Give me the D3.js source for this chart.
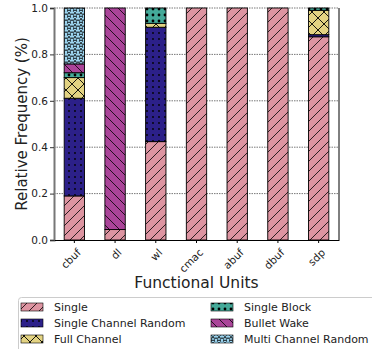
<!DOCTYPE html>
<html><head><meta charset="utf-8">
<script src="https://cdn.jsdelivr.net/npm/d3@7"></script>
<style>body{margin:0;background:#fff}svg{display:block;font-family:"DejaVu Sans",sans-serif}</style>
</head><body><div id="c"></div>
<script>
const categories = ["cbuf","dl","wl","cmac","abuf","dbuf","sdp"];
const seriesNames = ["Single","Single Channel Random","Full Channel","Single Block","Bullet Wake","Multi Channel Random"];
const single              = [0.19, 0.045, 0.424, 1.0, 1.0, 1.0, 0.876];
const singleChannelRandom = [0.421, 0, 0.493, 0, 0, 0, 0.009];
const fullChannel         = [0.089, 0, 0.017, 0, 0, 0, 0.105];
const singleBlock         = [0.021, 0, 0.066, 0, 0, 0, 0.01];
const bulletWake          = [0.038, 0.955, 0, 0, 0, 0, 0];
const multiChannelRandom  = [0.241, 0, 0, 0, 0, 0, 0];
const yTicks = [0.0, 0.2, 0.4, 0.6, 0.8, 1.0];

const seriesValues = [single, singleChannelRandom, fullChannel, singleBlock, bulletWake, multiChannelRandom];
const colors = ["#dd94a1","#2c2089","#e3d382","#44aa99","#aa4499","#9dd6f1"];
const patternIds = ["pSingle","pDots","pCross","pCircles","pBack","pStars"];

const W = 372, H = 349;
const m = {l:54, r:339, t:8, b:240};
const svg = d3.select("#c").append("svg").attr("width",W).attr("height",H);
const defs = svg.append("defs");

function mkPattern(id, color, size, draw){
  const p = defs.append("pattern").attr("id",id).attr("patternUnits","userSpaceOnUse")
    .attr("width",size).attr("height",size);
  p.append("rect").attr("width",size).attr("height",size).attr("fill",color);
  draw(p, size);
}
mkPattern("pSingle", colors[0], 10, (p,s)=>{
  p.append("path").attr("d",`M0,${s} L${s},0 M-2,2 L2,-2 M${s-2},${s+2} L${s+2},${s-2}`).attr("stroke","#000").attr("stroke-width",0.8);
});
mkPattern("pDots", colors[1], 6, (p,s)=>{
  p.append("circle").attr("cx",3).attr("cy",3).attr("r",0.9).attr("fill","#000");
});
mkPattern("pCross", colors[2], 12, (p,s)=>{
  p.append("path").attr("d",`M0,0 L${s},${s} M0,${s} L${s},0`).attr("stroke","#000").attr("stroke-width",0.9);
});
mkPattern("pCircles", colors[3], 6, (p,s)=>{
  p.append("circle").attr("cx",3).attr("cy",3).attr("r",1.4).attr("fill","#000");
});
mkPattern("pBack", colors[4], 10, (p,s)=>{
  p.append("path").attr("d",`M0,0 L${s},${s} M-2,${s-2} L2,${s+2} M${s-2},-2 L${s+2},2`).attr("stroke","#000").attr("stroke-width",0.8);
});
mkPattern("pStars", colors[5], 6, (p,s)=>{
  p.append("path").attr("d", d3.symbol(d3.symbolStar, 10)()).attr("transform","translate(3,3)")
    .attr("fill","none").attr("stroke","#000").attr("stroke-width",0.7);
});

const x = d3.scaleBand().domain(categories).range([m.l, m.r]).paddingInner(0.5).paddingOuter(0.25);
const y = d3.scaleLinear().domain([0,1]).range([m.b, m.t]);

// gridlines
svg.append("g").selectAll("line").data(yTicks.filter(d=>d>0)).join("line")
  .attr("x1",m.l).attr("x2",m.r).attr("y1",d=>y(d)).attr("y2",d=>y(d))
  .attr("stroke","#555").attr("stroke-width",0.8).attr("stroke-dasharray","1.5,1");

// stacked bars
const rows = categories.map((c,i)=>{const o={cat:c}; seriesNames.forEach((s,k)=>o[s]=seriesValues[k][i]); return o;});
const stack = d3.stack().keys(seriesNames)(rows);
stack.forEach((layer,k)=>{
  svg.append("g").selectAll("rect").data(layer.filter(d=>d[1]-d[0]>0)).join("rect")
    .attr("x",d=>x(d.data.cat)).attr("width",x.bandwidth())
    .attr("y",d=>y(d[1])).attr("height",d=>y(d[0])-y(d[1]))
    .attr("fill",`url(#${patternIds[k]})`).attr("stroke","#000").attr("stroke-width",0.9);
});

// axes
const ya = svg.append("g").attr("transform",`translate(${m.l},0)`)
  .call(d3.axisLeft(y).tickValues(yTicks).tickFormat(d3.format(".1f")).tickSize(4).tickPadding(2));
ya.select(".domain").attr("stroke","#777").attr("stroke-width",2);
ya.selectAll("text").attr("font-size",10.5).attr("fill","#222").attr("font-family","DejaVu Sans");
ya.selectAll(".tick line").attr("stroke","#333");

const xa = svg.append("g").attr("transform",`translate(0,${m.b})`)
  .call(d3.axisBottom(x).tickSize(3).tickSizeOuter(0));
xa.select(".domain").attr("stroke","#000").attr("stroke-width",1);
xa.selectAll(".tick text").attr("font-size",10.5).attr("fill","#222").attr("font-family","DejaVu Sans")
  .attr("text-anchor","end").attr("dy",0).attr("transform","translate(3,9) rotate(-45)");
// right spine
svg.append("line").attr("x1",m.r).attr("x2",m.r).attr("y1",m.t).attr("y2",m.b).attr("stroke","#000").attr("stroke-width",1);

svg.append("text").attr("transform",`translate(27,${(m.t+m.b)/2}) rotate(-90)`).attr("text-anchor","middle")
  .attr("font-size",15).attr("fill","#222").text("Relative Frequency (%)");
svg.append("text").attr("x",(m.l+m.r)/2).attr("y",288).attr("text-anchor","middle")
  .attr("font-size",15.5).attr("fill","#222").text("Functional Units");

// legend
const lg = svg.append("g");
lg.append("rect").attr("x",18.5).attr("y",297.5).attr("width",360).attr("height",60).attr("rx",3)
  .attr("fill","#fff").attr("stroke","#ccc");
seriesNames.forEach((s,k)=>{
  const col = Math.floor(k/3), row = k%3;
  const gx = col ? 211 : 21, gy = 303 + row*16;
  lg.append("rect").attr("x",gx).attr("y",gy).attr("width",22).attr("height",8)
    .attr("fill",`url(#${patternIds[k]})`).attr("stroke","#000").attr("stroke-width",0.6);
  lg.append("text").attr("x",gx+33).attr("y",gy+8).attr("font-size",11).attr("fill","#222").text(s);
});
</script></body></html>
